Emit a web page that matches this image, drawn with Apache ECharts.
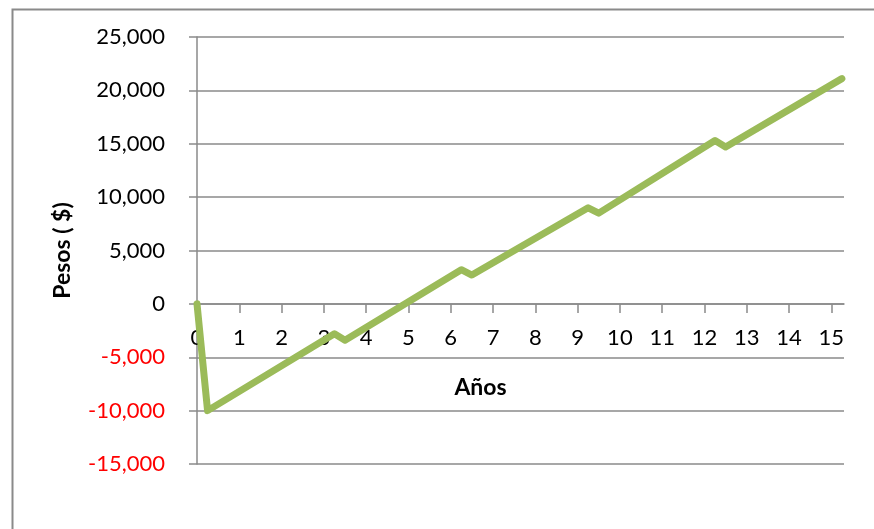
<!DOCTYPE html>
<html>
<head>
<meta charset="utf-8">
<script src="https://cdn.jsdelivr.net/npm/echarts@6/dist/echarts.min.js"></script>
<style>
  html, body { margin: 0; padding: 0; background: #fff; }
  #graph { width: 874px; height: 529px; }
</style>
</head>
<body>
<div id="graph"></div>
<script>
// datos (flujo acumulado)
var years = [0, 0.25, 3.25, 3.5, 6.25, 6.5, 9.25, 9.5, 12.25, 12.5, 15.25];
var pesos = [0, -10000, -2800, -3400, 3200, 2700, 9000, 8500, 15300, 14700, 21100];
var yTicks = [-15000, -10000, -5000, 0, 5000, 10000, 15000, 20000, 25000];
var xTitle = 'Años';
var yTitle = 'Pesos ( $)';

var points = [];
for (var i = 0; i < years.length; i++) {
    points.push([years[i], pesos[i]]);
}

var myChart = echarts.init(document.getElementById('graph'));
var fontName = 'Lato, "Open Sans", sans-serif';
var gray = '#8a8a8a';

// alto del grid y posicion del cero (el eje x va pegado al cero)
var gridTop = 37, gridBottom = 65;
var plotH = 529 - gridTop - gridBottom;
var yMin = yTicks[0], yMax = yTicks[yTicks.length - 1];
var zeroFromBottom = plotH * (0 - yMin) / (yMax - yMin);

var option = {
    animation: false,
    graphic: [{
        type: 'rect',
        left: 10,
        top: 7,
        shape: { width: 900, height: 600 },
        style: { fill: 'none', stroke: gray, lineWidth: 2 },
        silent: true
    }],
    grid: {
        left: 197,
        right: 30,
        top: gridTop,
        bottom: gridBottom,
        containLabel: false
    },
    xAxis: {
        type: 'value',
        min: 0,
        max: 15.3,
        interval: 1,
        offset: -zeroFromBottom,
        name: xTitle,
        nameLocation: 'middle',
        nameGap: 72,
        // el titulo esta algo a la izquierda del centro
        nameTextStyle: { fontFamily: fontName, fontSize: 23, fontWeight: 'bold', color: '#000', padding: [0, 80, 0, 0] },
        axisLine: { onZero: false, lineStyle: { color: gray, width: 1.5 } },
        axisTick: { show: true, length: 9, lineStyle: { color: gray, width: 1.5 } },
        axisLabel: {
            margin: 23,
            fontFamily: fontName,
            fontSize: 22,
            color: '#000',
            showMaxLabel: false,
            formatter: function (v) { return v % 1 === 0 ? String(v) : ''; }
        },
        splitLine: { show: false }
    },
    yAxis: {
        type: 'value',
        min: yMin,
        max: yMax,
        interval: 5000,
        name: yTitle,
        nameLocation: 'middle',
        nameGap: 123,
        nameTextStyle: { fontFamily: fontName, fontSize: 23, fontWeight: 'bold', color: '#000' },
        axisLine: { show: true, lineStyle: { color: gray, width: 1.5 } },
        axisTick: { show: true, length: 8, lineStyle: { color: gray, width: 1.5 } },
        axisLabel: {
            margin: 32,
            fontFamily: fontName,
            fontSize: 22,
            color: function (v) { return Number(v) < 0 ? '#ff0000' : '#000'; },
            formatter: function (v) { return echarts.format.addCommas(v); }
        },
        splitLine: { show: true, lineStyle: { color: gray, width: 1.5 } }
    },
    series: [{
        type: 'line',
        data: points,
        showSymbol: false,
        symbol: 'none',
        lineStyle: { color: '#9bbb59', width: 7, cap: 'round', join: 'round' },
        itemStyle: { color: '#9bbb59' }
    }]
};

myChart.setOption(option);
</script>
</body>
</html>
